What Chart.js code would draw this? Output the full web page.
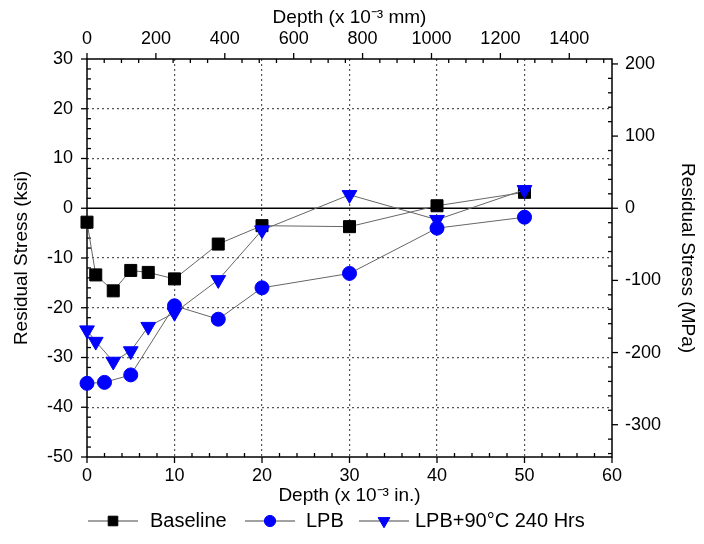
<!DOCTYPE html>
<html>
<head>
<meta charset="utf-8">
<script src="https://cdn.jsdelivr.net/npm/chart.js@4/dist/chart.umd.min.js"></script>
<style>
  body { margin: 0; background: #fff; }
  #wrap { width: 704px; height: 544px; }
</style>
</head>
<body>
<div id="wrap"><canvas id="stressChart" width="704" height="544"></canvas></div>
<script>
// depth in 10^-3 in., stress in ksi
var depthBaseline = [0, 1, 3, 5, 7, 10, 15, 20, 30, 40, 50];
var stressBaseline = [-2.8, -13.4, -16.6, -12.5, -12.9, -14.2, -7.2, -3.5, -3.7, 0.5, 3.2];

var depthLPB = [0, 2, 5, 10, 15, 20, 30, 40, 50];
var stressLPB = [-35.2, -35.0, -33.5, -19.6, -22.3, -16.0, -13.1, -4.0, -1.8];

var depthLPB90 = [0, 1, 3, 5, 7, 10, 15, 20, 30, 40, 50];
var stressLPB90 = [-24.5, -26.8, -30.8, -28.7, -23.8, -21.0, -14.4, -4.4, 2.7, -2.3, 3.7];

var seriesNames = ["Baseline", "LPB", "LPB+90°C 240 Hrs"];

var inTicks = [0, 10, 20, 30, 40, 50, 60];
var mmTicks = [0, 200, 400, 600, 800, 1000, 1200, 1400];
var ksiTicks = [-50, -40, -30, -20, -10, 0, 10, 20, 30];
var mpaTicks = [-300, -200, -100, 0, 100, 200];

var IN_TO_MM = 25.4;
var KSI_TO_MPA = 6.895;

function toPoints(xs, ys) {
    return xs.map((x, i) => ({ x: x, y: ys[i] }));
}

Chart.defaults.font.family = '"Liberation Sans", Arial, sans-serif';
Chart.defaults.color = "#000";

function fixTicks(values) {
    return function (scale) {
        scale.ticks = values.map((v) => ({ value: v }));
    };
}

function plainLabel(v) {
    return String(Math.round(v));
}

function range(from, to, step) {
    var out = [];
    for (var v = from; v <= to + 1e-9; v += step) out.push(v);
    return out;
}

//- frame, zero line and tick marks -
var axisFrame = {
    id: "axisFrame",
    beforeDatasetsDraw(chart) {
        var ctx = chart.ctx;
        var a = chart.chartArea;
        var s = chart.scales;
        ctx.save();
        ctx.strokeStyle = "#000";
        ctx.lineWidth = 1.5;

        var y0 = s.y.getPixelForValue(0);
        ctx.beginPath();
        ctx.moveTo(a.left, y0);
        ctx.lineTo(a.right, y0);
        ctx.stroke();

        ctx.strokeRect(a.left, a.top, a.right - a.left, a.bottom - a.top);

        ctx.lineWidth = 1.3;
        function hTicks(scale, values, yEdge, len) {
            values.forEach((v) => {
                var px = scale.getPixelForValue(v);
                ctx.beginPath();
                ctx.moveTo(px, yEdge);
                ctx.lineTo(px, yEdge + len);
                ctx.stroke();
            });
        }
        function vTicks(scale, values, xEdge, len) {
            values.forEach((v) => {
                var py = scale.getPixelForValue(v);
                ctx.beginPath();
                ctx.moveTo(xEdge, py);
                ctx.lineTo(xEdge + len, py);
                ctx.stroke();
            });
        }
        var notIn = (list) => (v) => !list.some((m) => Math.abs(m - v) < 1e-6);

        hTicks(s.x, inTicks, a.bottom, 6);
        hTicks(s.x, range(0, 60, 2).filter(notIn(inTicks)), a.bottom, -4);
        hTicks(s.x2, mmTicks, a.top, -6);
        hTicks(s.x2, range(0, 1500, 50).filter(notIn(mmTicks)), a.top, 4);
        vTicks(s.y, ksiTicks, a.left, -6);
        vTicks(s.y, range(-50, 30, 2).filter(notIn(ksiTicks)), a.left, 4);
        vTicks(s.y2, mpaTicks, a.right, 6);
        vTicks(s.y2, range(-340, 200, 20).filter(notIn(mpaTicks)), a.right, -4);
        ctx.restore();
    },
};

//- legend: line - marker - line, then label -
var lineLegend = {
    id: "lineLegend",
    afterDraw(chart) {
        var ctx = chart.ctx;
        var y = 521;
        var items = [
            { x: 88, text: 150 },
            { x: 245, text: 306 },
            { x: 359, text: 415 },
        ];
        ctx.save();
        chart.data.datasets.forEach((ds, i) => {
            var it = items[i];
            ctx.strokeStyle = "#444";
            ctx.lineWidth = 1;
            ctx.beginPath();
            ctx.moveTo(it.x, y);
            ctx.lineTo(it.x + 50, y);
            ctx.stroke();
            ctx.fillStyle = ds.pointBackgroundColor;
            ctx.strokeStyle = ds.pointBorderColor;
            Chart.helpers.drawPoint(ctx, {
                pointStyle: ds.pointStyle,
                radius: ds.pointRadius * 0.8,
                rotation: ds.pointRotation || 0,
                borderWidth: 1,
            }, it.x + 25, y);
            ctx.fillStyle = "#000";
            ctx.font = '20px "Liberation Sans", Arial, sans-serif';
            ctx.textBaseline = "middle";
            ctx.fillText(ds.label, it.text, y);
        });
        ctx.restore();
    },
};

var baseSet = {
    showLine: true,
    borderColor: "#666",
    borderWidth: 1,
    clip: false,
    pointBorderWidth: 1,
};

new Chart(document.getElementById("stressChart").getContext("2d"), {
    type: "scatter",
    data: {
        datasets: [
            Object.assign({}, baseSet, {
                label: seriesNames[0],
                data: toPoints(depthBaseline, stressBaseline),
                pointStyle: "rect",
                pointRadius: 8.5,
                pointBackgroundColor: "#000",
                pointBorderColor: "#000",
                order: 3,
            }),
            Object.assign({}, baseSet, {
                label: seriesNames[1],
                data: toPoints(depthLPB, stressLPB),
                pointStyle: "circle",
                pointRadius: 7,
                pointBackgroundColor: "#0000ff",
                pointBorderColor: "#0000ff",
                order: 2,
            }),
            Object.assign({}, baseSet, {
                label: seriesNames[2],
                data: toPoints(depthLPB90, stressLPB90),
                pointStyle: "triangle",
                pointRotation: 180,
                pointRadius: 8.5,
                pointBackgroundColor: "#0000ff",
                pointBorderColor: "#0000ff",
                order: 1,
            }),
        ],
    },
    options: {
        responsive: false,
        animation: false,
        layout: { padding: { bottom: 36 } },
        plugins: {
            legend: { display: false },
            tooltip: { enabled: false },
        },
        scales: {
            x: {
                type: "linear",
                position: "bottom",
                min: 0,
                max: 60,
                afterBuildTicks: fixTicks(inTicks),
                afterFit: (s) => { s.height = 51; },
                grid: {
                    drawTicks: false,
                    color: (c) => (c.tick && c.tick.value > 0 && c.tick.value < 60 ? "#555" : "rgba(0,0,0,0)"),
                    lineWidth: 1.2,
                },
                border: { display: false, dash: [2, 3] },
                ticks: { padding: 8, font: { size: 18 }, callback: plainLabel },
                title: {
                    display: true,
                    text: "Depth (x 10⁻³ in.)",
                    font: { size: 19 },
                    padding: { top: 0, bottom: 1 },
                },
            },
            x2: {
                type: "linear",
                position: "top",
                display: true,
                min: 0,
                max: 60 * IN_TO_MM,
                afterBuildTicks: fixTicks(mmTicks),
                afterFit: (s) => { s.height = 59; },
                grid: { drawTicks: false, drawOnChartArea: false },
                border: { display: false },
                ticks: { padding: 9, font: { size: 18 }, callback: plainLabel },
                title: {
                    display: true,
                    text: "Depth (x 10⁻³ mm)",
                    font: { size: 19 },
                    padding: { top: 6, bottom: 0 },
                },
            },
            y: {
                type: "linear",
                position: "left",
                min: -50,
                max: 30,
                afterBuildTicks: fixTicks(ksiTicks),
                afterFit: (s) => { s.width = 87; },
                grid: {
                    drawTicks: false,
                    color: (c) => (c.tick && c.tick.value !== 0 && c.tick.value > -50 && c.tick.value < 30 ? "#555" : "rgba(0,0,0,0)"),
                    lineWidth: 1.2,
                },
                border: { display: false, dash: [2, 3] },
                ticks: { padding: 14, font: { size: 18 }, callback: plainLabel },
                title: {
                    display: true,
                    text: "Residual Stress (ksi)",
                    font: { size: 19 },
                    padding: { top: 10, bottom: 0 },
                },
            },
            y2: {
                type: "linear",
                position: "right",
                display: true,
                min: -50 * KSI_TO_MPA,
                max: 30 * KSI_TO_MPA,
                afterBuildTicks: fixTicks(mpaTicks),
                afterFit: (s) => { s.width = 92; },
                grid: { drawTicks: false, drawOnChartArea: false },
                border: { display: false },
                ticks: { padding: 13, font: { size: 18 }, callback: plainLabel },
                title: {
                    display: true,
                    text: "Residual Stress (MPa)",
                    font: { size: 19 },
                    padding: { top: 5, bottom: 0 },
                },
            },
        },
    },
    plugins: [axisFrame, lineLegend],
});
</script>
</body>
</html>
